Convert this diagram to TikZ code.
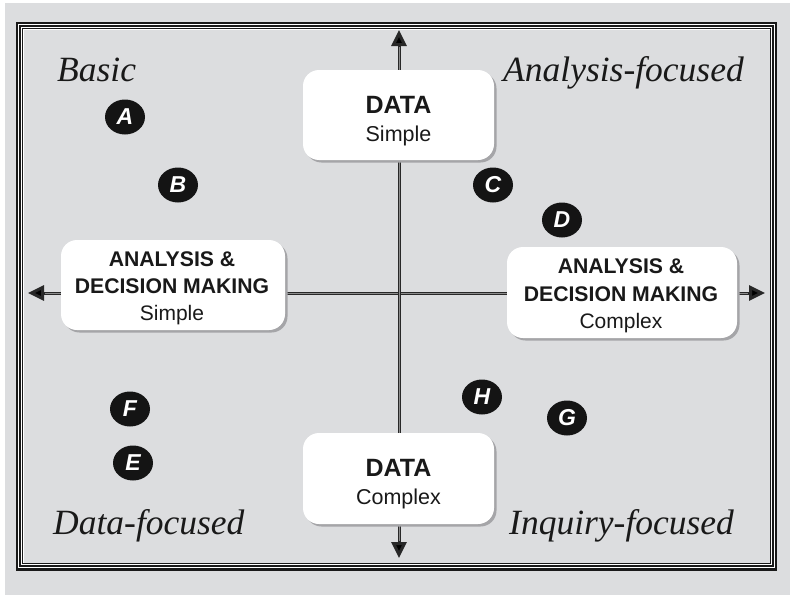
\documentclass[tikz,border=0pt]{standalone}
\usepackage{fontspec}
\setmainfont{Liberation Serif}
\newfontfamily\hv{Liberation Sans}
\usetikzlibrary{arrows.meta,shapes.geometric,shadows}
\definecolor{panel}{RGB}{220,221,223}
\definecolor{shadowgray}{RGB}{165,165,168}
\definecolor{axisdark}{RGB}{40,40,40}
\definecolor{axislight}{RGB}{140,140,140}
\begin{document}
\begin{tikzpicture}[x=1pt,y=-1pt,
  box/.style={fill=white, rounded corners=16pt, inner sep=0pt,
    drop shadow={shadow xshift=2.5pt, shadow yshift=-2.5pt, fill=shadowgray, opacity=1}},
  bigtxt/.style={anchor=base, inner sep=0pt, font=\hv\bfseries\fontsize{25}{25}\selectfont, text=black!90},
  subtxt/.style={anchor=base, inner sep=0pt, font=\hv\fontsize{21.5}{21.5}\selectfont, text=black!90},
  adtxt/.style={anchor=base, inner sep=0pt, font=\hv\bfseries\fontsize{21.2}{21.2}\selectfont, text=black!90},
  adsub/.style={anchor=base, inner sep=0pt, font=\hv\fontsize{21}{21}\selectfont, text=black!90},
  quad/.style={anchor=base west, inner sep=0pt, font=\itshape\fontsize{35.5}{35.5}\selectfont, text=black!90},
  dot/.style={ellipse, fill=black!92, minimum width=40pt, minimum height=35pt, inner sep=0pt,
    text=white, font=\hv\bfseries\itshape\fontsize{23}{23}\selectfont},
  axis/.style={line width=3pt, draw=axisdark, fill=black,
    {Triangle[length=16pt,width=15pt,fill=black]}-{Triangle[length=16pt,width=15pt,fill=black]}},
  axiscore/.style={line width=1pt, draw=axislight, shorten <=17pt, shorten >=17pt},
]
% page and panel
\useasboundingbox (0,0) rectangle (790,613);
\fill[white] (0,0) rectangle (790,613);
\fill[panel] (5,3) rectangle (790,595);
% triple border
\draw[white, line width=7pt] (20,26) rectangle (773,566.5);
\draw[black!90, line width=2.3pt] (17,23) rectangle (776,569.5);
\draw[black!90, line width=1.7pt] (20.2,26.2) rectangle (772.8,566.3);
\draw[black!90, line width=1.3pt] (22.8,28.8) rectangle (770.2,563.7);
% axes
\coordinate (L) at (28,293);
\coordinate (R) at (765,293);
\coordinate (T) at (399,30);
\coordinate (B) at (399,558);
\draw[axis] (L) -- (R);
\draw[axiscore] (L) -- (R);
\draw[axis] (T) -- (B);
\draw[axiscore] (T) -- (B);
% boxes
\node[box, minimum width=191pt, minimum height=90pt] (dataS) at (398.5,115) {};
\node[box, minimum width=191pt, minimum height=91pt] (dataC) at (398.5,478.5) {};
\node[box, minimum width=224pt, minimum height=90pt] (adS) at (173,285) {};
\node[box, minimum width=230pt, minimum height=91pt] (adC) at (622,292.5) {};
% box texts
\node[bigtxt] (dataS1) at (398.5,113) {DATA};
\node[subtxt] (dataS2) at (398.5,141.5) {Simple};
\node[bigtxt] (dataC1) at (398.5,476) {DATA};
\node[subtxt] (dataC2) at (398.5,504.5) {Complex};
\node[adtxt] (adS1) at (172,266.5) {ANALYSIS \&};
\node[adtxt] (adS2) at (172,293.3) {DECISION MAKING};
\node[adsub] (adS3) at (172,320.5) {Simple};
\node[adtxt] (adC1) at (621,273) {ANALYSIS \&};
\node[adtxt] (adC2) at (621,301.5) {DECISION MAKING};
\node[adsub] (adC3) at (621,328) {Complex};
% quadrant labels
\node[quad] (qBasic) at (57,81) {Basic};
\node[quad] (qAnalysis) at (503,81) {Analysis-focused};
\node[quad] (qData) at (53,534) {Data-focused};
\node[quad] (qInquiry) at (509,534) {Inquiry-focused};
% markers
\node[dot] (mA) at (125,117) {A};
\node[dot] (mB) at (178,185) {B};
\node[dot] (mC) at (493,185) {C};
\node[dot] (mD) at (562,220) {D};
\node[dot] (mF) at (130,409) {F};
\node[dot] (mE) at (133,463) {E};
\node[dot] (mH) at (482,397) {H};
\node[dot] (mG) at (567,418) {G};
\end{tikzpicture}
\end{document}
